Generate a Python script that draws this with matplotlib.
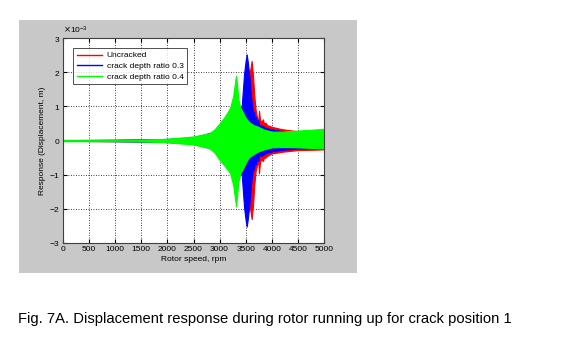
import numpy as np
import matplotlib
matplotlib.use("Agg")
import matplotlib.pyplot as plt
from matplotlib.patches import Rectangle
from matplotlib.ticker import ScalarFormatter

# envelope of the response, values in units of 1e-3 m
red_rpm = [0, 1000, 2000, 2500, 3000, 3200, 3400, 3500, 3540, 3580, 3614, 3640, 3665, 3690,
           3720, 3740, 3755, 3775, 3800, 3830, 3850, 3880, 3910, 3950, 4000, 4200, 4500, 4800, 5000]
red_up = [0.01, 0.02, 0.04, 0.08, 0.25, 0.4, 0.7, 1.0, 1.3, 2.0, 2.33, 1.9, 1.3, 0.9,
          0.65, 0.55, 0.87, 0.6, 0.55, 0.62, 0.5, 0.52, 0.45, 0.43, 0.40, 0.33, 0.27, 0.24, 0.23]
red_lo = [0.01, 0.02, 0.04, 0.08, 0.25, 0.4, 0.7, 1.0, 1.3, 1.95, 2.3, 1.9, 1.3, 0.9,
          0.7, 0.6, 0.96, 0.62, 0.55, 0.6, 0.5, 0.5, 0.45, 0.42, 0.38, 0.33, 0.28, 0.27, 0.26]

blue_rpm = [0, 1000, 2000, 2500, 3000, 3200, 3350, 3423, 3470, 3500, 3519, 3540, 3570, 3600,
            3640, 3660, 3680, 3700, 3720, 3740, 3760, 3800, 3850, 3900, 4000, 4200, 4500, 4800, 5000]
blue_up = [0.01, 0.02, 0.045, 0.09, 0.3, 0.5, 0.8, 1.0, 1.97, 2.35, 2.52, 2.3, 1.9, 1.3,
           0.8, 0.85, 0.55, 0.7, 0.45, 0.6, 0.42, 0.45, 0.40, 0.36, 0.33, 0.27, 0.22, 0.21, 0.2]
blue_lo = [0.01, 0.02, 0.045, 0.09, 0.3, 0.5, 0.8, 1.0, 1.97, 2.35, 2.52, 2.3, 1.9, 1.3,
           0.8, 0.85, 0.55, 0.7, 0.45, 0.6, 0.42, 0.45, 0.40, 0.36, 0.32, 0.27, 0.23, 0.22, 0.22]

green_rpm = [0, 500, 1000, 1500, 2000, 2500, 2800, 2900, 3000, 3100, 3200, 3260, 3300, 3314, 3330,
             3360, 3400, 3440, 3487, 3520, 3560, 3600, 3650, 3742, 3850, 4000, 4200, 4500, 4800, 5000]
green_up = [0.02, 0.02, 0.02, 0.03, 0.05, 0.12, 0.21, 0.32, 0.5, 0.7, 0.95, 1.3, 1.75, 1.89, 1.7,
            1.2, 0.95, 0.85, 0.70, 0.62, 0.55, 0.5, 0.45, 0.40, 0.32, 0.26, 0.26, 0.29, 0.32, 0.34]
green_lo = [0.02, 0.02, 0.02, 0.03, 0.05, 0.12, 0.22, 0.35, 0.57, 0.75, 0.95, 1.3, 1.75, 1.92, 1.7,
            1.2, 0.95, 0.85, 0.70, 0.6, 0.5, 0.45, 0.4, 0.32, 0.26, 0.2, 0.19, 0.2, 0.22, 0.23]

labels = ["Uncracked", "crack depth ratio 0.3", "crack depth ratio 0.4"]
caption = "Fig. 7A. Displacement response during rotor running up for crack position 1"

plt.rcParams['font.family'] = ['Liberation Sans', 'DejaVu Sans']

fig = plt.figure(figsize=(5.62, 3.52), dpi=100)
fig.patches.append(Rectangle((19 / 562, 1 - 273 / 352), 338 / 562, 253 / 352,
                             transform=fig.transFigure, facecolor="#c8c8c8",
                             edgecolor="none", zorder=-1))
ax = fig.add_axes([63 / 562, 1 - 243 / 352, 261 / 562, 205 / 352], zorder=2)

series = [(red_rpm, red_up, red_lo, "#ff0000"),
          (blue_rpm, blue_up, blue_lo, "#0000ff"),
          (green_rpm, green_up, green_lo, "#00ff00")]
for (rpm, up, lo, c), lab in zip(series, labels):
    rpm = np.array(rpm)
    ax.fill_between(rpm, np.array(up) * 1e-3, -np.array(lo) * 1e-3,
                    color=c, lw=0.8, zorder=2)
    ax.plot([], [], color=c, lw=1, label=lab)

ax.set_xlim(0, 5000)
ax.set_ylim(-3e-3, 3e-3)
ax.set_xticks(np.arange(0, 5001, 500))
ax.set_yticks(np.arange(-3e-3, 3.1e-3, 1e-3))
fmt = ScalarFormatter(useMathText=True)
fmt.set_powerlimits((0, 0))
ax.yaxis.set_major_formatter(fmt)
ax.yaxis.get_offset_text().set_fontsize(6)
ax.tick_params(direction="in", labelsize=6, length=3, top=True, right=True, pad=2)
ax.grid(True, color="black", linestyle=(0, (1, 2)), lw=0.6)
ax.set_axisbelow(True)
for s in ax.spines.values():
    s.set_color("#404040")
ax.set_xlabel("Rotor speed, rpm", fontsize=6, labelpad=2)
ax.set_ylabel("Response (Displacement, m)", fontsize=6, labelpad=2)

leg = ax.legend(loc="upper left", bbox_to_anchor=(0.04, 0.95), fontsize=6,
                frameon=True, fancybox=False, edgecolor="black", handlelength=3,
                handletextpad=0.6, borderaxespad=0, labelspacing=0.35, borderpad=0.4)
leg.get_frame().set_linewidth(0.6)

fig.text(18 / 562, 1 - 319 / 352, caption, fontsize=10.6, va="center", ha="left")

fig.savefig("out.png", dpi=100)
